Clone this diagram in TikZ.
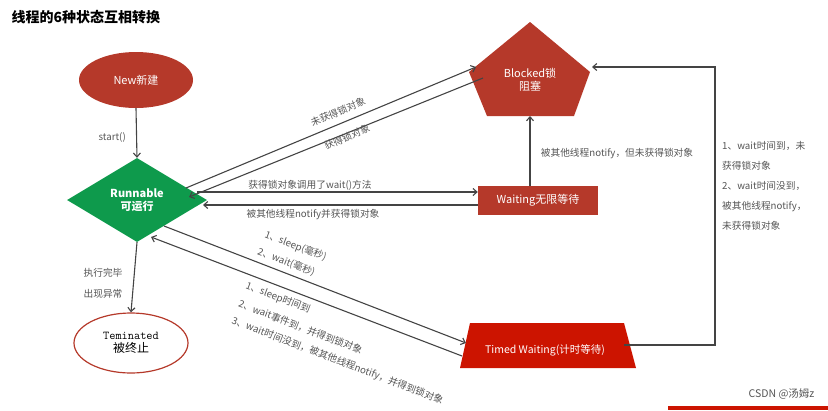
\documentclass[tikz,border=0pt]{standalone}
\usepackage{fontspec}
\setmainfont{Noto Sans CJK SC}
\usetikzlibrary{arrows.meta,shapes.geometric}
\definecolor{dred}{HTML}{B5392A}
\definecolor{tred}{HTML}{CC1400}
\definecolor{grn}{HTML}{0E9A4C}
\definecolor{lbl}{HTML}{555555}
\tikzset{
 conn/.style={draw=lbl!80!black, line width=1.1pt, -{Straight Barb[length=4pt,width=7pt]}},
 lab/.style={text=lbl, font=\fontsize{9.7}{11}\selectfont, inner sep=1pt},
 stxt/.style={text=white, font=\fontsize{11}{13}\selectfont, align=center},
}
\begin{document}
\begin{tikzpicture}[x=1pt,y=-1pt]
\useasboundingbox (0,0) rectangle (828,410);
\node[anchor=west, font=\bfseries\fontsize{14}{16}\selectfont] (title) at (8,17) {线程的6种状态互相转换};
% states
\node[stxt, draw=none, fill=dred, ellipse, minimum width=114, minimum height=56] (new) at (136,80) {New新建};
\node[draw=none, fill=grn, diamond, minimum width=140, minimum height=84, inner sep=0] (run) at (137,200) {};
\node[stxt, font=\bfseries\fontsize{11}{13}\selectfont] at (137,200) {Runnable\\可运行};
\node[draw=dred, line width=1.2pt, fill=white, ellipse, minimum width=114, minimum height=60, align=center, font=\fontsize{12}{14}\selectfont] (term) at (131,343) {{\ttfamily Teminated}\\[-1pt]被终止};
\fill[dred] (530,22) -- (590,72) -- (574,116) -- (487,116) -- (469,72) -- cycle;
\node[stxt] (blk) at (530,80) {Blocked锁\\阻塞};
\coordinate (blkB) at (530,116);
\coordinate (blkL1) at (476,67);
\coordinate (blkL2) at (483,78);
\node[stxt, fill=dred, minimum width=120, minimum height=29, inner sep=0] (wait) at (538,200.5) {Waiting无限等待};
\fill[tred] (470,323) -- (624,323) -- (636,368) -- (460,368) -- cycle;
\node[stxt, font=\fontsize{10.5}{12}\selectfont] (tw) at (545,350) {Timed Waiting(计时等待)};
\coordinate (twL1) at (466,343);
\coordinate (twL2) at (462,356);
\coordinate (twR) at (624,345);
% connectors
\draw[conn] (new.south) -- (run.north);
\node[lab, anchor=east] at (127,137) {start()};
\draw[conn] (run.south) -- (term.north);
\node[lab] at (103,273) {执行完毕};
\node[lab] at (103,294) {出现异常};
\draw[conn] (186,188) -- (blkL1);
\draw[conn] (blkL2) -- (189,197);
\node[lab, rotate=22.8] at (338,112) {未获得锁对象};
\node[lab, rotate=22.8] at (347,137) {获得锁对象};
\draw[conn] (197,192) -- (wait.west |- 0,192);
\draw[conn] (wait.west |- 0,205) -- (203,205);
\node[lab] at (310,185) {获得锁对象调用了wait()方法};
\node[lab] at (313,215) {被其他线程notify并获得锁对象};
\draw[conn] (wait.north -| blkB) -- (blkB);
\node[lab] at (617,154) {被其他线程notify，但未获得锁对象};
\draw[conn] (164,226) -- (twL1);
\draw[conn] (twL2) -- (151,237);
\node[lab, rotate=-21, anchor=west] at (264,234) {1、sleep(毫秒)};
\node[lab, rotate=-21, anchor=west] at (257,251) {2、wait(毫秒)};
\node[lab, rotate=-21, anchor=west] at (245,285) {1、sleep时间到};
\node[lab, rotate=-21, anchor=west] at (238,303) {2、wait事件到，并得到锁对象};
\node[lab, rotate=-21, anchor=west] at (231,320) {3、wait时间没到，被其他线程notify，并得到锁对象};
\draw[conn] (twR) -- (715,345) -- (715,67) -- (592,67);
\node[lab, anchor=north west, align=left, font=\fontsize{9.7}{20}\selectfont] at (721,140) {1、wait时间到，未\\获得锁对象\\2、wait时间没到，\\被其他线程notify，\\未获得锁对象};
% watermark
\node[anchor=east, text=lbl, font=\fontsize{10.5}{12}\selectfont] at (818,394) {CSDN @汤姆z};
\fill[tred] (668,406) rectangle (828,410);
\end{tikzpicture}
\end{document}
